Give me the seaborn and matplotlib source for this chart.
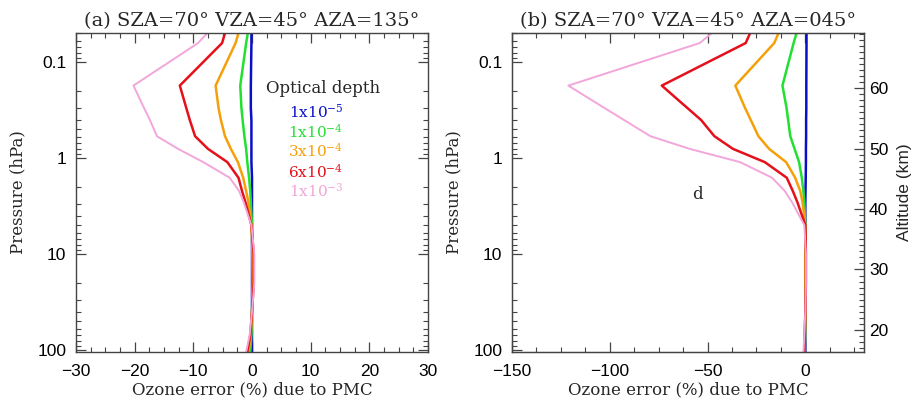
import numpy as np
import pandas as pd
import matplotlib
matplotlib.use("Agg")
import matplotlib.pyplot as plt
import matplotlib.ticker as mticker
import seaborn as sns

# ---- data ----
pressure = [0.0495, 0.063, 0.175, 0.3, 0.4, 0.59, 0.8, 1.1, 1.6, 2.2, 2.9, 5, 10, 20, 40, 70, 105]
depths = ["1x10-5", "1x10-4", "3x10-4", "6x10-4", "1x10-3"]
depth_labels = [r"1x10$^{-5}$", r"1x10$^{-4}$", r"3x10$^{-4}$", r"6x10$^{-4}$", r"1x10$^{-3}$"]
colors = ["#0a10c8", "#22e030", "#f5a00a", "#e5101a", "#f2a6da"]

a_blue   = [-0.1, -0.1, -0.2, -0.2, -0.1, -0.1, -0.1, -0.1, 0, 0, 0, 0, 0, 0, 0, 0, 0]
a_green  = [-0.7, -1.0, -2.0, -1.8, -1.6, -1.3, -1.0, -0.8, -0.5, -0.3, -0.2, 0, 0.1, 0.1, 0, -0.1, -0.3]
a_orange = [-2.3, -2.8, -6.2, -5.7, -5.3, -4.6, -3.6, -2.4, -1.5, -1.0, -0.6, -0.1, 0.1, 0.2, 0, -0.2, -0.6]
a_red    = [-4.6, -5.1, -12.3, -11.2, -10.6, -9.7, -7.5, -4.2, -2.3, -1.7, -1.1, -0.1, 0.3, 0.3, 0, -0.3, -0.8]
a_pink   = [-7.6, -9.2, -20.2, -18.4, -17.4, -16.2, -12.6, -8.3, -3.8, -2.2, -1.4, -0.1, 0.4, 0.4, 0, -0.4, -1.0]

b_blue   = [0.6, 0.6, 0.5, 0.5, 0.4, 0.4, 0.3, 0.3, 0.2, 0.1, 0, 0, 0, 0, 0, 0, 0]
b_green  = [-4.5, -6.0, -11.7, -9.6, -8.8, -7.7, -5.5, -3.2, -1.8, -1.0, -0.5, 0, 0, 0, 0, -0.1, -0.3]
b_orange = [-13.7, -15.9, -35.8, -30.8, -27.9, -24.0, -18.5, -9.8, -5.2, -2.6, -1.4, 0, 0, 0, 0, -0.2, -0.3]
b_red    = [-28.2, -30.5, -73.4, -60.3, -53.3, -46.5, -37.0, -20.7, -9.5, -6.4, -4.0, 0, 0.3, 0.3, 0, -0.3, -0.5]
b_pink   = [-47.8, -54.0, -121.2, -102.7, -92.7, -79.2, -59.1, -33.3, -17.0, -10.5, -6.7, -0.5, 0.3, 0.3, 0, -0.5, -1.0]

titles = [u"(a) SZA=70\u00b0 VZA=45\u00b0 AZA=135\u00b0", u"(b) SZA=70\u00b0 VZA=45\u00b0 AZA=045\u00b0"]
xlabel = "Ozone error (%) due to PMC"
ylabel = "Pressure (hPa)"
alt_label = "Altitude (km)"
a_xticks = [-30, -20, -10, 0, 10, 20, 30]
b_xticks = [-150, -100, -50, 0]
p_ticks = [0.1, 1, 10, 100]
p_ticklabels = ["0.1", "1", "10", "100"]
alt_ticks = [20, 30, 40, 50, 60]


def make_df(series):
    rows = []
    for d, vals in zip(depths, series):
        for p, v in zip(pressure, vals):
            rows.append({"depth": d, "pressure": p, "error": v})
    return pd.DataFrame(rows)


df_a = make_df([a_blue, a_green, a_orange, a_red, a_pink])
df_b = make_df([b_blue, b_green, b_orange, b_red, b_pink])

sns.set_style("ticks")
plt.rcParams["font.family"] = ["Liberation Sans", "DejaVu Sans"]
plt.rcParams["mathtext.fontset"] = "dejavuserif"
serif = ["DejaVu Serif"]
edge = "#444444"

fig = plt.figure(figsize=(9.12, 4.05), dpi=100)
W, H = 912.0, 405.0
ax_a = fig.add_axes([76 / W, (405 - 352) / H, 352 / W, 319 / H])
ax_b = fig.add_axes([512 / W, (405 - 352) / H, 352 / W, 319 / H])

palette = dict(zip(depths, colors))
widths = [1.8, 1.8, 1.8, 1.8, 1.4]

for ax, df, xlim, xt, xminor, title in [
    (ax_a, df_a, (-30, 30), a_xticks, 2.5, titles[0]),
    (ax_b, df_b, (-150, 30), b_xticks, 12.5, titles[1]),
]:
    sns.lineplot(data=df, x="error", y="pressure", hue="depth", palette=palette,
                 sort=False, estimator=None, orient="y", ax=ax, legend=False)
    for line, lw in zip(ax.get_lines(), widths):
        line.set_linewidth(lw)
    ax.set_yscale("log")
    ax.set_ylim(105, 0.0495)
    ax.set_xlim(*xlim)
    ax.set_xticks(xt)
    ax.xaxis.set_minor_locator(mticker.MultipleLocator(xminor))
    ax.set_yticks(p_ticks)
    ax.set_yticklabels(p_ticklabels)
    ax.yaxis.set_minor_locator(mticker.LogLocator(base=10, subs=np.arange(2, 10)))
    ax.yaxis.set_minor_formatter(mticker.NullFormatter())
    ax.tick_params(which="both", direction="in", top=True, right=True, colors=edge,
                   labelcolor="black", labelsize=12.5)
    ax.tick_params(which="major", length=7, width=0.9)
    ax.tick_params(which="minor", length=3.5, width=0.8)
    ax.tick_params(axis="x", which="major", pad=9)
    ax.tick_params(axis="y", which="major", pad=7)
    for s in ax.spines.values():
        s.set_color(edge)
        s.set_linewidth(1.0)
    ax.set_title(title, family=serif, fontsize=14, pad=5)
    ax.set_xlabel(xlabel, family=serif, fontsize=12, labelpad=1)
    ax.set_ylabel(ylabel, family=serif, fontsize=12, labelpad=8)

# legend text in panel (a)
ax_a.text(12.1, 0.188, "Optical depth", family=serif, fontsize=12, ha="center", va="center")
leg_p = [0.326, 0.525, 0.846, 1.40, 2.2]
for lab, c, p in zip(depth_labels, colors, leg_p):
    ax_a.text(10.9, p, lab, family=serif, fontsize=11, color=c, ha="center", va="center")

# stray label in panel (b)
ax_b.text(-55, 2.4, "d", family=serif, fontsize=12, ha="center", va="center")

# altitude axis
ax_b.tick_params(which="both", right=False)
ax2 = ax_b.twinx()
ax2.set_ylim(16.36, 69.1)
ax2.set_yticks(alt_ticks)
ax2.yaxis.set_minor_locator(mticker.MultipleLocator(1))
ax2.tick_params(which="both", direction="in", colors=edge, labelcolor="black", labelsize=12.5)
ax2.tick_params(which="major", length=7, width=0.9)
ax2.tick_params(which="minor", length=3.5, width=0.8)
for s in ax2.spines.values():
    s.set_color(edge)
ax2.set_ylabel(alt_label, fontsize=12.5, labelpad=6)

fig.savefig("out.png", dpi=100)
